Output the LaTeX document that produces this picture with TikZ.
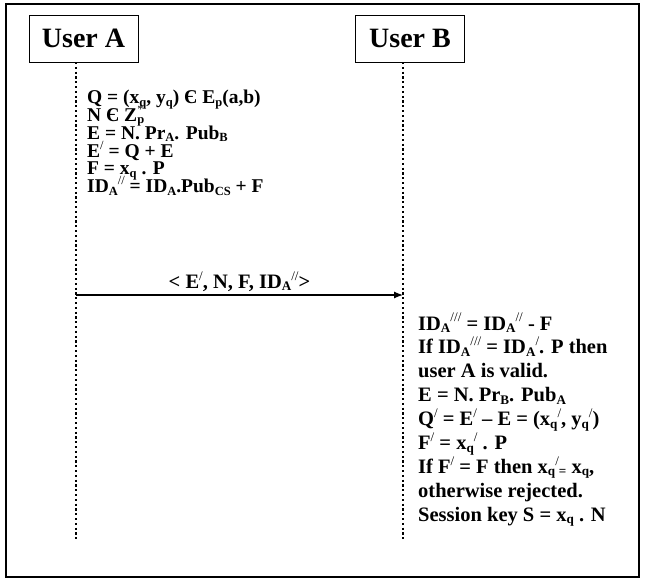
\documentclass[tikz,border=0pt]{standalone}
\usepackage{fontspec}
\usepackage{graphicx}
\setmainfont{Liberation Serif}
\usetikzlibrary{arrows.meta}

\newcommand{\lo}[1]{\raisebox{-0.12em}{\scalebox{0.64}{#1}}}
\newcommand{\hi}[1]{\raisebox{0.4em}{\scalebox{0.64}{\mdseries #1}}}
\newcommand{\lohi}[2]{\makebox[0pt][l]{\hi{#2}}\lo{#1}}
\newcommand{\pr}{\hi{/}}
\newcommand{\ppr}{\hi{//}}
\newcommand{\pppr}{\hi{///}}
\newcommand{\tightlines}{\setlength{\lineskiplimit}{-20pt}}

\tikzset{
    userbox/.style={draw, line width=0.8pt, minimum width=109pt, minimum height=47pt,
        inner sep=0pt, font=\bfseries\fontsize{28}{30}\selectfont},
    lifeline/.style={line width=2.2pt, dash pattern=on 2.2pt off 2.6pt},
    stepsA/.style={anchor=north west, inner sep=0pt, align=left,
        font=\bfseries\fontsize{19.5}{17.8}\selectfont\tightlines},
    stepsB/.style={anchor=north west, inner sep=0pt, align=left,
        font=\bfseries\fontsize{20.5}{23.9}\selectfont\tightlines}
}

\begin{document}
\begin{tikzpicture}[x=1pt, y=-1pt]
        \useasboundingbox (0, 0) rectangle (647, 581);
        \draw[line width=2pt] (6, 4) rectangle (639, 577);

        \node[userbox] (userA) at (83.5, 38.5) {User A};
        \node[userbox] (userB) at (410, 38.5) {User B};

        \foreach \who/\x in {A/76, B/403} {
            \coordinate (top\who) at (\x, 62);
            \coordinate (bot\who) at (\x, 540);
            \coordinate (msg\who) at (\x, 295);
            \draw[lifeline] (top\who) -- (bot\who);
        }

        \node[stepsA] (calcA) at (87, 90) {Q = (x\lo{q}, y\lo{q}) Є E\lo{p}(a,b)\\
            N Є Z\lohi{p}{*}\\
            E = N. Pr\lo{A}. Pub\lo{B}\\
            E\pr{} = Q + E\\
            F = x\lo{q} . P\\
            ID\lo{A}\ppr{} = ID\lo{A}.Pub\lo{CS} + F};

        \draw[-{Latex[length=9pt, width=7pt]}, line width=1.2pt] (msgA) -- (msgB)
            node[midway, above=1pt, inner sep=2pt, font=\bfseries\fontsize{20.5}{22}\selectfont] (msg)
            {< E\pr{}, N, F, ID\lo{A}\ppr{}>};

        \node[stepsB] (calcB) at (418, 313) {ID\lo{A}\pppr{} = ID\lo{A}\ppr{} - F\\
            If ID\lo{A}\pppr{} = ID\lo{A}\pr{}. P then\\
            user A is valid.\\
            E = N. Pr\lo{B}. Pub\lo{A}\\
            Q\pr{} = E\pr{} – E = (x\lo{q}\pr{}, y\lo{q}\pr{})\\
            F\pr{} = x\lo{q}\pr{} . P\\
            If F\pr{} = F then x\lo{q}\pr{}\lo{=} x\lo{q},\\
            otherwise rejected.\\
            Session key S = x\lo{q} . N};
    \end{tikzpicture}
\end{document}
